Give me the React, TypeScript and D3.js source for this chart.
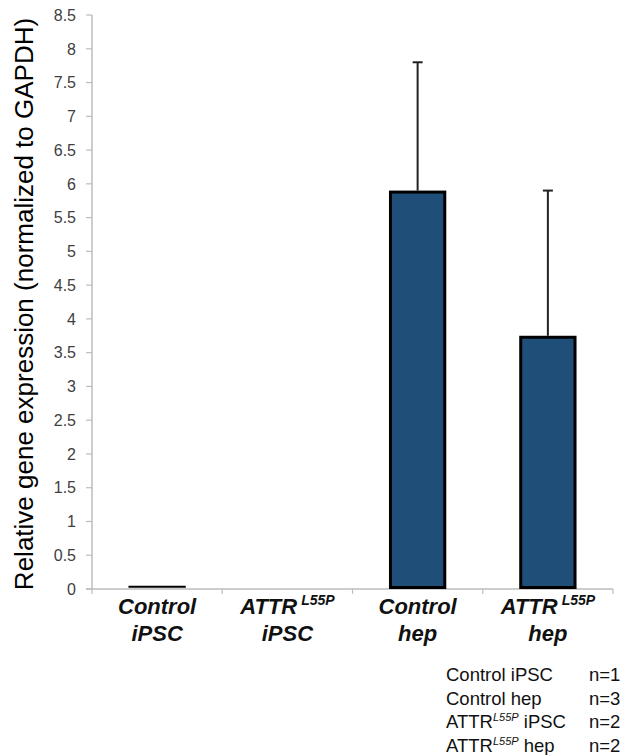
import React, { useEffect, useRef } from 'react';
import * as d3 from 'd3';

// groups on the x axis, label lines (second entry of first line is a superscript)
const groups = ['Control iPSC', 'ATTR iPSC', 'Control hep', 'ATTR hep'];
const labelMain = ['Control', 'ATTR', 'Control', 'ATTR'];
const labelSup = ['', 'L55P', '', 'L55P'];
const labelSecond = ['iPSC', 'iPSC', 'hep', 'hep'];
const means = [0.02, 0.0, 5.9, 3.75];
const errors = [0, 0, 1.9, 2.15];
const yTicks = d3.range(0, 8.51, 0.5);

const noteNames = ['Control iPSC', 'Control hep', 'ATTR iPSC', 'ATTR hep'];
const noteSup = ['', '', 'L55P', 'L55P'];
const noteN = ['n=1', 'n=3', 'n=2', 'n=2'];

const W = 626, H = 755;

export default function App() {
  const ref = useRef<SVGSVGElement>(null);

  useEffect(() => {
    const svg = d3.select(ref.current);
    svg.selectAll('*').remove();

    const x = d3.scaleBand().domain(groups).range([92, 613]).paddingInner(0.56).paddingOuter(0.28);
    const y = d3.scaleLinear().domain([0, 8.5]).range([589, 15]);
    const font = 'Arial, "Liberation Sans", sans-serif';
    const axisColor = '#bdbdbd';

    // y axis
    svg.append('line')
      .attr('x1', 92).attr('x2', 92).attr('y1', y(8.5)).attr('y2', y(0))
      .attr('stroke', axisColor).attr('stroke-width', 1.5);
    const yt = svg.append('g').selectAll('g').data(yTicks).join('g');
    yt.append('line')
      .attr('x1', 86).attr('x2', 92)
      .attr('y1', d => y(d)).attr('y2', d => y(d))
      .attr('stroke', axisColor).attr('stroke-width', 1.2);
    yt.append('text')
      .attr('x', 76).attr('y', d => y(d)).attr('dy', '0.36em')
      .attr('text-anchor', 'end')
      .attr('font-family', font).attr('font-size', 16).attr('fill', '#404040')
      .text(d => d3.format('~g')(d));

    // y title
    svg.append('text')
      .attr('transform', `translate(33, ${304}) rotate(-90)`)
      .attr('text-anchor', 'middle')
      .attr('font-family', font).attr('font-size', 26).attr('fill', '#000')
      .text('Relative gene expression (normalized to GAPDH)');

    // x axis
    svg.append('line')
      .attr('x1', 86).attr('x2', 613).attr('y1', y(0)).attr('y2', y(0))
      .attr('stroke', axisColor).attr('stroke-width', 1.5);
    const step = x.step();
    const bounds = groups.map((g, i) => 92 + i * step).concat([613]);
    svg.append('g').selectAll('line').data(bounds).join('line')
      .attr('x1', d => d).attr('x2', d => d)
      .attr('y1', y(0)).attr('y2', y(0) + 5)
      .attr('stroke', axisColor).attr('stroke-width', 1.2);

    // error bars (upper only)
    const eb = svg.append('g').selectAll('g').data(groups.map((g, i) => ({ g, m: means[i], e: errors[i] })).filter(d => d.e > 0)).join('g');
    eb.append('line')
      .attr('x1', d => x(d.g)! + x.bandwidth() / 2).attr('x2', d => x(d.g)! + x.bandwidth() / 2)
      .attr('y1', d => y(d.m)).attr('y2', d => y(d.m + d.e))
      .attr('stroke', '#222').attr('stroke-width', 2);
    eb.append('line')
      .attr('x1', d => x(d.g)! + x.bandwidth() / 2 - 5).attr('x2', d => x(d.g)! + x.bandwidth() / 2 + 5)
      .attr('y1', d => y(d.m + d.e)).attr('y2', d => y(d.m + d.e))
      .attr('stroke', '#222').attr('stroke-width', 2);

    // bars
    svg.append('g').selectAll('rect').data(groups.map((g, i) => ({ g, m: means[i] })).filter(d => d.m > 0.1)).join('rect')
      .attr('x', d => x(d.g)! + 1.5)
      .attr('width', x.bandwidth() - 3)
      .attr('y', d => y(d.m) + 1.5)
      .attr('height', d => Math.max(0, y(0) - y(d.m) - 3))
      .attr('fill', '#1f4e79')
      .attr('stroke', '#000').attr('stroke-width', 3);

    // thin mark for Control iPSC near zero
    svg.append('line')
      .attr('x1', x('Control iPSC')!).attr('x2', x('Control iPSC')! + x.bandwidth())
      .attr('y1', y(means[0]) - 1).attr('y2', y(means[0]) - 1)
      .attr('stroke', '#000').attr('stroke-width', 2);

    // x labels
    const lab = svg.append('g').selectAll('g').data(groups).join('g')
      .attr('transform', d => `translate(${x(d)! + x.bandwidth() / 2}, 0)`)
      .attr('font-family', font).attr('font-weight', 'bold').attr('font-style', 'italic')
      .attr('fill', '#111');
    const l1 = lab.append('text').attr('y', 614).attr('text-anchor', 'middle').attr('font-size', 22);
    l1.append('tspan').text((d, i) => labelMain[i]);
    l1.append('tspan').attr('font-size', 14).attr('dx', (d, i) => labelSup[i] ? 4 : 0).attr('dy', -9)
      .text((d, i) => labelSup[i]);
    lab.append('text').attr('y', 641).attr('text-anchor', 'middle').attr('font-size', 22)
      .text((d, i) => labelSecond[i]);

    // sample size notes
    const note = svg.append('g').selectAll('g').data(noteNames).join('g')
      .attr('transform', (d, i) => `translate(0, ${681 + i * 23.5})`)
      .attr('font-family', font).attr('font-size', 18.5).attr('fill', '#111');
    const nt = note.append('text').attr('x', 446);
    nt.append('tspan').text((d, i) => noteSup[i] ? 'ATTR' : d);
    nt.append('tspan').attr('font-size', 11).attr('font-style', 'italic').attr('dy', -7)
      .text((d, i) => noteSup[i]);
    nt.append('tspan').attr('dy', (d, i) => noteSup[i] ? 7 : 0)
      .text((d, i) => noteSup[i] ? ' ' + d.replace('ATTR ', '') : '');
    note.append('text').attr('x', 589).text((d, i) => noteN[i]);
  }, []);

  return (
    <svg ref={ref} width={W} height={H}
      style={{ position: 'absolute', left: 0, top: 0, background: '#fff' }} />
  );
}
